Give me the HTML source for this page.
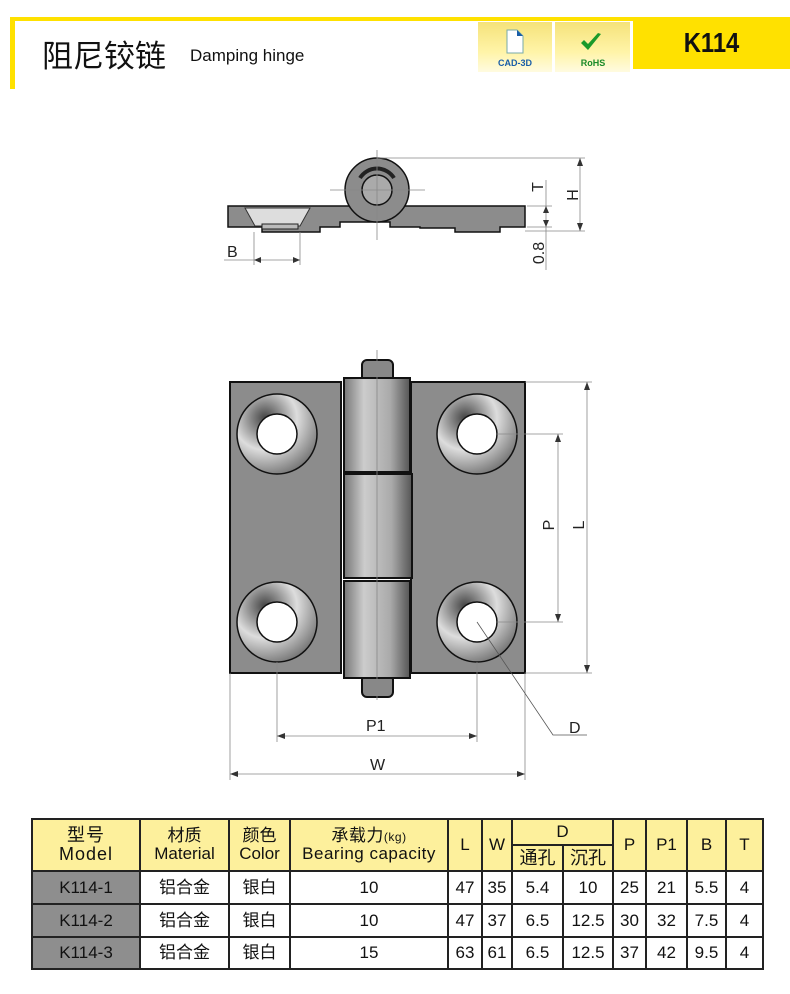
<!DOCTYPE html>
<html><head><meta charset="utf-8"><style>
body{margin:0;background:#fff;width:790px;height:994px;position:relative;overflow:hidden;font-family:"Liberation Sans","Noto Sans CJK SC",sans-serif}
.a{position:absolute}
table{position:absolute;left:31px;top:818px;border-collapse:collapse;table-layout:fixed}
td{border:2px solid #222;text-align:center;padding:0;font-size:17px;color:#111;line-height:1.05}
.h{background:#fdf09c}
.g{background:#8e8e8e}
</style></head><body>
<div class="a" style="left:10px;top:17px;width:780px;height:4px;background:#ffe100"></div>
<div class="a" style="left:10px;top:17px;width:5px;height:72px;background:#ffe100"></div>
<div class="a" style="left:633px;top:21px;width:157px;height:48px;background:#ffe100"></div>
<div class="a" style="left:633px;top:27px;width:157px;text-align:center;font-size:28px;font-weight:bold;color:#111;transform:scaleX(0.85)">K114</div>
<div class="a" style="left:42px;top:31px;font-size:31px;color:#111">阻尼铰链</div>
<div class="a" style="left:190px;top:46px;font-size:17px;color:#111">Damping hinge</div>
<div class="a" style="left:478px;top:22px;width:74px;height:50px;background:linear-gradient(#f5e27a,#fff4a8 60%,#fffbe0)"></div>
<div class="a" style="left:555px;top:22px;width:75px;height:50px;background:linear-gradient(#f5e27a,#fff4a8 60%,#fffbe0)"></div>
<svg class="a" style="left:0;top:0" width="790" height="994">
<path d="M507 30h10l6 6v17h-16z" fill="#fff" stroke="#7aa" stroke-width="1"/>
<path d="M517 30l6 6h-6z" fill="#1a5ea8"/>
<text x="515" y="66" font-size="9" font-weight="bold" fill="#1a5ea8" text-anchor="middle" font-family="Liberation Sans">CAD-3D</text>
<path d="M581 43l7 7l13-16l-3-1l-10 11l-4-4z" fill="#1a9a2a"/>
<text x="593" y="66" font-size="9" font-weight="bold" fill="#1a8a2a" text-anchor="middle" font-family="Liberation Sans">RoHS</text>

<!-- side view -->
<g stroke="#111" stroke-width="1.5" fill="#8c8c8c">
<path d="M228 206H525V227H500V232H455V228H420V227H390V222H340V227H320V232H262V227H250V227H228Z"/>
<circle cx="377" cy="190" r="32"/>
<path d="M360 178a20 20 0 0 1 34 0" fill="none" stroke="#222" stroke-width="4"/>
<circle cx="377" cy="190" r="15" fill="#aaa"/>
</g>
<path d="M245 208L255 226H300L310 208Z" fill="#ddd" stroke="#333"/>
<rect x="262" y="224" width="36" height="5" fill="#bbb" stroke="#222"/>
<g stroke="#888" stroke-width="0.8" fill="none">
<line x1="377" y1="150" x2="377" y2="240"/><line x1="330" y1="190" x2="425" y2="190"/>
<line x1="377" y1="158" x2="585" y2="158"/><line x1="525" y1="231" x2="585" y2="231"/>
<line x1="527" y1="206" x2="552" y2="206"/><line x1="527" y1="227" x2="552" y2="227"/>
<line x1="546" y1="180" x2="546" y2="270"/><line x1="580" y1="158" x2="580" y2="231"/>
<line x1="254" y1="232" x2="254" y2="265"/><line x1="300" y1="232" x2="300" y2="265"/>
<line x1="224" y1="260" x2="300" y2="260"/>
</g>
<g fill="#333"><path d="M580 158l-3 8h6z"/><path d="M580 231l-3-8h6z"/><path d="M546 206l-3 7h6z"/><path d="M546 227l-3-7h6z"/><path d="M254 260l7-3v6z"/><path d="M300 260l-7-3v6z"/></g>
<g font-family="Liberation Sans" font-size="16" fill="#222">
<text x="227" y="257">B</text>
<text transform="translate(543,187) rotate(-90)" text-anchor="middle">T</text>
<text transform="translate(578,195) rotate(-90)" text-anchor="middle">H</text>
<text transform="translate(544,253) rotate(-90)" text-anchor="middle">0.8</text>
</g>

<!-- front view -->
<defs>
<radialGradient id="cs" cx="0.35" cy="0.3" r="0.8"><stop offset="0" stop-color="#444"/><stop offset="0.5" stop-color="#ddd"/><stop offset="1" stop-color="#666"/></radialGradient>
<linearGradient id="kn" x1="0" x2="1"><stop offset="0" stop-color="#777"/><stop offset="0.3" stop-color="#ccc"/><stop offset="0.7" stop-color="#aaa"/><stop offset="1" stop-color="#555"/></linearGradient>
</defs>
<g stroke="#111" stroke-width="2">
<rect x="230" y="382" width="111" height="291" fill="#8c8c8c"/>
<rect x="411" y="382" width="114" height="291" fill="#8c8c8c"/>
<rect x="362" y="360" width="31" height="22" rx="5" fill="#888"/>
<rect x="362" y="675" width="31" height="22" rx="5" fill="#888"/>
<rect x="344" y="378" width="66" height="94" fill="url(#kn)"/>
<rect x="344" y="474" width="68" height="104" fill="url(#kn)"/>
<rect x="344" y="581" width="66" height="97" fill="url(#kn)"/>
</g>
<g stroke="#111" stroke-width="1.5">
<circle cx="277" cy="434" r="40" fill="url(#cs)"/><circle cx="277" cy="434" r="20" fill="#fff"/>
<circle cx="477" cy="434" r="40" fill="url(#cs)"/><circle cx="477" cy="434" r="20" fill="#fff"/>
<circle cx="277" cy="622" r="40" fill="url(#cs)"/><circle cx="277" cy="622" r="20" fill="#fff"/>
<circle cx="477" cy="622" r="40" fill="url(#cs)"/><circle cx="477" cy="622" r="20" fill="#fff"/>
</g>
<g stroke="#888" stroke-width="0.8" fill="none">
<line x1="377" y1="350" x2="377" y2="700"/>
<line x1="525" y1="382" x2="592" y2="382"/><line x1="525" y1="673" x2="592" y2="673"/>
<line x1="497" y1="434" x2="563" y2="434"/><line x1="497" y1="622" x2="563" y2="622"/>
<line x1="587" y1="382" x2="587" y2="673"/><line x1="558" y1="434" x2="558" y2="622"/>
<line x1="277" y1="662" x2="277" y2="742"/><line x1="477" y1="662" x2="477" y2="742"/>
<line x1="230" y1="673" x2="230" y2="780"/><line x1="525" y1="673" x2="525" y2="780"/>
<line x1="277" y1="736" x2="477" y2="736"/><line x1="230" y1="774" x2="525" y2="774"/>
<polyline points="477,622 553,735 587,735" stroke="#555"/>
</g>
<g fill="#333"><path d="M587 382l-3 8h6z"/><path d="M587 673l-3-8h6z"/><path d="M558 434l-3 8h6z"/><path d="M558 622l-3-8h6z"/>
<path d="M277 736l8-3v6z"/><path d="M477 736l-8-3v6z"/><path d="M230 774l8-3v6z"/><path d="M525 774l-8-3v6z"/></g>
<g font-family="Liberation Sans" font-size="16" fill="#222">
<text x="366" y="731">P1</text><text x="370" y="770">W</text><text x="569" y="733">D</text>
<text transform="translate(554,525) rotate(-90)" text-anchor="middle">P</text>
<text transform="translate(584,525) rotate(-90)" text-anchor="middle">L</text>
</g>
</svg>

<table>
<colgroup><col style="width:108px"><col style="width:89px"><col style="width:61px"><col style="width:158px"><col style="width:34px"><col style="width:30px"><col style="width:51px"><col style="width:50px"><col style="width:33px"><col style="width:41px"><col style="width:39px"><col style="width:37px"></colgroup>
<tr style="height:26px"><td class="h" rowspan="2" style="font-size:18px;letter-spacing:1px">型号<br>Model</td><td class="h" rowspan="2" style="font-size:17px">材质<br>Material</td><td class="h" rowspan="2" style="font-size:17px">颜色<br>Color</td><td class="h" rowspan="2" style="font-size:17px;letter-spacing:0.5px">承载力<span style="font-size:12px">(kg)</span><br>Bearing capacity</td><td class="h" rowspan="2">L</td><td class="h" rowspan="2">W</td><td class="h" colspan="2">D</td><td class="h" rowspan="2">P</td><td class="h" rowspan="2">P1</td><td class="h" rowspan="2">B</td><td class="h" rowspan="2">T</td></tr>
<tr style="height:26px"><td class="h" style="font-size:18px">通孔</td><td class="h" style="font-size:18px">沉孔</td></tr>
<tr style="height:33px"><td class="g">K114-1</td><td>铝合金</td><td>银白</td><td>10</td><td>47</td><td>35</td><td>5.4</td><td>10</td><td>25</td><td>21</td><td>5.5</td><td>4</td></tr>
<tr style="height:33px"><td class="g">K114-2</td><td>铝合金</td><td>银白</td><td>10</td><td>47</td><td>37</td><td>6.5</td><td>12.5</td><td>30</td><td>32</td><td>7.5</td><td>4</td></tr>
<tr style="height:32px"><td class="g">K114-3</td><td>铝合金</td><td>银白</td><td>15</td><td>63</td><td>61</td><td>6.5</td><td>12.5</td><td>37</td><td>42</td><td>9.5</td><td>4</td></tr>
</table>
</body></html>
